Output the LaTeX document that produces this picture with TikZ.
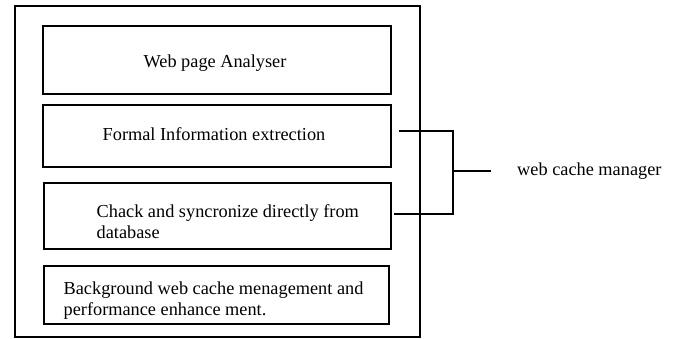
\documentclass[tikz,border=0pt]{standalone}
\usepackage{fontspec}
\setmainfont{Liberation Serif}
\usetikzlibrary{positioning,calc}

\tikzset{
    module/.style={rectangle, draw, line width=1.1pt, inner sep=0pt},
    label text/.style={anchor=west, align=left, inner sep=0pt},
    bracket/.style={line width=1.1pt}
}

\begin{document}
\begin{tikzpicture}[x=1pt, y=-1pt, font=\fontsize{18.3}{21}\selectfont]
    \useasboundingbox (0,0) rectangle (678,338);
    % outer frame
    \draw[line width=1.1pt] (15,6) rectangle (420,337);

    % the four modules
    \node[module, minimum width=348, minimum height=68] (analyser) at (217,60) {};
    \node[inner sep=0pt] (analyserText) at ($(analyser)+(-2,3)$) {Web page Analyser};
    \node[module, minimum width=348, minimum height=62] (extract) at (217,136) {};
    \node[inner sep=0pt] (extractText) at ($(extract)+(-3,-2)$) {Formal Information extrection};
    \node[module, minimum width=347, minimum height=66] (sync) at (217.5,216) {};
    \node[label text] (syncText) at ($(sync.west)+(53,6)$) {Chack and syncronize directly from\\database};
    \node[module, minimum width=345, minimum height=58] (background) at (216.5,295) {};
    \node[label text] (backgroundText) at ($(background.west)+(20,6)$) {Background web cache menagement and\\performance enhance ment.};

    % right hand bracket
    \coordinate (jtop) at (453,131);
    \coordinate (jbot) at (453,214);
    \coordinate (join) at (453,171);
    \node[anchor=west, inner sep=0pt] (manager) at (517,171) {web cache manager};
    \draw[bracket] ($(extract.east)+(7,-5)$) -- (jtop) -- (jbot) -- ($(sync.east)+(2,-2)$);
    \draw[bracket] (join) -- ([xshift=-26pt]manager.west);
\end{tikzpicture}
\end{document}
